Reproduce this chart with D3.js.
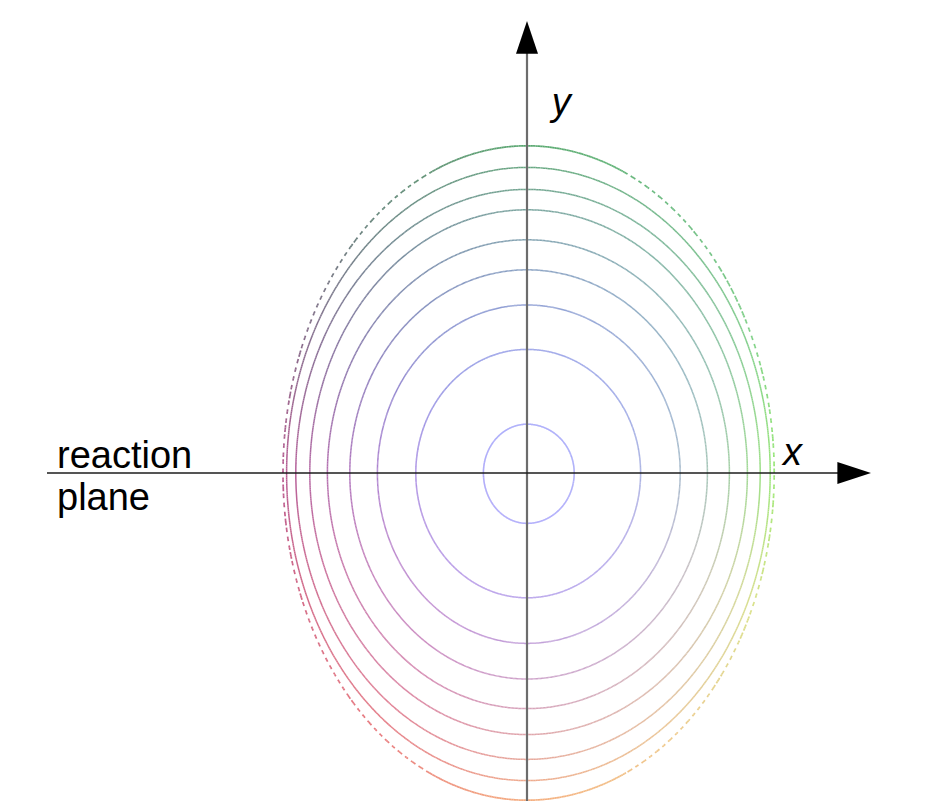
<!DOCTYPE html>
<html>
<head>
<meta charset="utf-8">
<script src="https://cdn.jsdelivr.net/npm/d3@7"></script>
<style>
  html, body { margin: 0; padding: 0; background: #ffffff; }
  svg { display: block; }
  .lbl { font-family: "Liberation Sans", Arial, Helvetica, sans-serif; fill: #000; }
</style>
</head>
<body>
<svg id="chart" width="931" height="802"></svg>
<script>
// Iso-density contours of the overlap zone, transverse plane (fm).
// Semi-axes of each closed contour, inner to outer.
const contourLevels = [1, 2, 3, 4, 5, 6, 7, 8, 9];
const radiusLeft   = [1.09, 2.78, 3.74, 4.43, 4.99, 5.43, 5.78, 6.01, 6.10];
const radiusRight  = [1.18, 2.84, 3.83, 4.51, 5.06, 5.51, 5.83, 6.08, 6.18];
const radiusTop    = [1.22, 3.09, 4.20, 5.08, 5.83, 6.58, 7.09, 7.64, 8.18];
const radiusBottom = [1.26, 3.12, 4.26, 5.15, 5.89, 6.54, 7.16, 7.69, 8.18];
// outermost level only partly resolved on its flanks
const brokenFlanks = [false, false, false, false, false, false, false, false, true];

// colour wheel on the rim (angle in degrees, counter-clockwise from +x)
const rimAngles = [0, 30, 60, 90, 120, 150, 180, 210, 240, 270, 300, 330];
const rimColors = ["#84e25a", "#5ecc62", "#44b05c", "#349450", "#3c6852", "#6a4668",
                   "#a8387a", "#cc4260", "#e65a58", "#f29a62", "#eec46c", "#d2e064"];
const centerColor = "#8282ff";

const axisNames = ["x", "y"];
const planeLabel = ["reaction", "plane"];

const svg = d3.select("#chart");

// 40 px per fm, origin where the axes cross
const xScale = d3.scaleLinear().domain([-12, 8.6]).range([47, 871]);
const yScale = d3.scaleLinear().domain([-8.2, 11.3]).range([801, 21]);

const nOuter = contourLevels.length - 1;

function contourPoint(i, t) {
  const c = Math.cos(t), s = Math.sin(t);
  const rx = c >= 0 ? radiusRight[i] : radiusLeft[i];
  const ry = s >= 0 ? radiusTop[i] : radiusBottom[i];
  return [rx * c, ry * s];
}

function rimColor(deg) {
  deg = ((deg % 360) + 360) % 360;
  let k = 0;
  while (k < rimAngles.length - 1 && rimAngles[k + 1] <= deg) k++;
  const a0 = rimAngles[k];
  const a1 = k + 1 < rimAngles.length ? rimAngles[k + 1] : 360;
  const c1 = rimColors[(k + 1) % rimColors.length];
  return d3.interpolateRgb(rimColors[k], c1)((deg - a0) / (a1 - a0));
}

function colorAt(x, y) {
  const t = Math.atan2(y, x);
  const edge = contourPoint(nOuter, t);
  const f = Math.min(1, Math.hypot(x, y) / Math.hypot(edge[0], edge[1]));
  return d3.interpolateLab(centerColor, rimColor(t * 180 / Math.PI))(Math.pow(f, 1.8));
}

const gContours = svg.append("g").attr("class", "contours")
  .attr("stroke-opacity", 0.82);
const steps = 900;

contourLevels.forEach((lev, i) => {
  const angles = d3.range(steps + 1).map(k => k / steps * 2 * Math.PI);
  const pts = angles.map(t => contourPoint(i, t));
  const g = gContours.append("g").attr("class", "level-" + lev);
  let run = 0;
  for (let k = 0; k < steps; k++) {
    const p0 = pts[k], p1 = pts[k + 1];
    const x0 = xScale(p0[0]), y0 = yScale(p0[1]);
    const x1 = xScale(p1[0]), y1 = yScale(p1[1]);
    const segLen = Math.hypot(x1 - x0, y1 - y0);
    const tm = (angles[k] + angles[k + 1]) / 2;
    run += segLen;
    if (brokenFlanks[i] && Math.abs(Math.cos(tm)) > 0.4) {
      if ((run % 8.5) > 4.8) continue;
    }
    g.append("line")
      .attr("x1", x0).attr("y1", y0)
      .attr("x2", x1).attr("y2", y1)
      .attr("stroke", colorAt((p0[0] + p1[0]) / 2, (p0[1] + p1[1]) / 2))
      .attr("stroke-width", brokenFlanks[i] ? 1.7 : 1.5)
      .attr("stroke-linecap", "butt");
  }
});

// axes with arrow heads
const gAxes = svg.append("g").attr("class", "axes");
const x0 = xScale(0), y0 = yScale(0);
const xEnd = xScale.domain()[1], yEnd = yScale.domain()[1];

gAxes.append("line")
  .attr("x1", x0).attr("x2", x0)
  .attr("y1", yScale(-8.2)).attr("y2", yScale(yEnd - 0.8))
  .attr("stroke", "#6c6c6c").attr("stroke-width", 2.2);
gAxes.append("path")
  .attr("d", d3.line()([[x0, yScale(yEnd)], [x0 - 11, yScale(yEnd - 0.82)], [x0 + 11, yScale(yEnd - 0.82)]]) + "Z")
  .attr("fill", "#000");

gAxes.append("line")
  .attr("x1", xScale(-12)).attr("x2", xScale(xEnd - 0.8))
  .attr("y1", y0).attr("y2", y0)
  .attr("stroke", "#1c1c1c").attr("stroke-width", 1.4);
gAxes.append("path")
  .attr("d", d3.line()([[xScale(xEnd), y0], [xScale(xEnd - 0.84), y0 - 11], [xScale(xEnd - 0.84), y0 + 11]]) + "Z")
  .attr("fill", "#000");

// labels
svg.append("text").attr("class", "lbl")
  .attr("x", xScale(6.4)).attr("y", yScale(0.2))
  .attr("font-size", 38).attr("font-style", "italic")
  .text(axisNames[0]);
svg.append("text").attr("class", "lbl")
  .attr("x", xScale(0.62)).attr("y", yScale(8.95))
  .attr("font-size", 38).attr("font-style", "italic")
  .text(axisNames[1]);

svg.append("text").attr("class", "lbl")
  .attr("x", 57).attr("y", 468)
  .attr("font-size", 38)
  .text(planeLabel[0]);
svg.append("text").attr("class", "lbl")
  .attr("x", 57).attr("y", 510)
  .attr("font-size", 38)
  .text(planeLabel[1]);
</script>
</body>
</html>
